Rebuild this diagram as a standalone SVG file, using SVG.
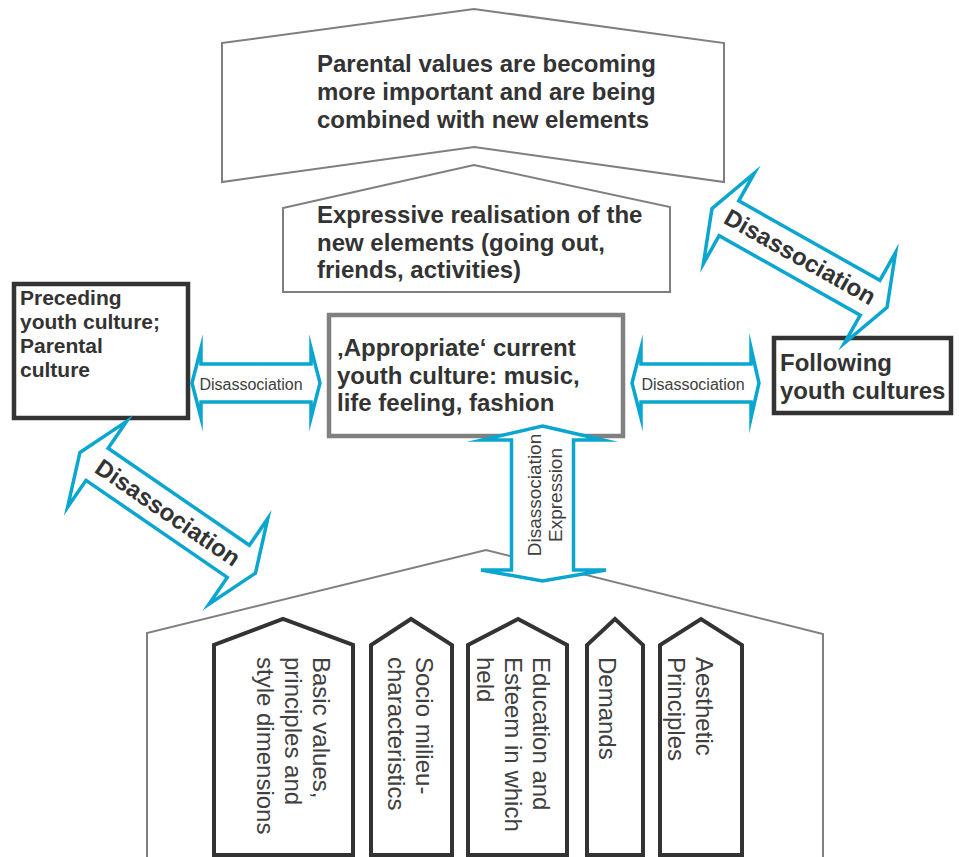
<svg xmlns="http://www.w3.org/2000/svg" width="959" height="857" viewBox="0 0 959 857">
<style>
.chev{fill:#fff;stroke:#7f7f7f;stroke-width:2}
.box{fill:#fff;stroke:#333;stroke-width:4.5}
.boxg{fill:#fff;stroke:#808080;stroke-width:4.5}
.pil{fill:#fff;stroke:#333;stroke-width:4;stroke-linejoin:miter}
.arr{fill:#fff;stroke:#0aa6d0;stroke-width:3.5;stroke-linejoin:miter;stroke-miterlimit:10}
.house{fill:#fff;stroke:#808080;stroke-width:2}
.b{font-family:"Liberation Sans",Arial,sans-serif;font-weight:bold;fill:#333}
.r{font-family:"Liberation Sans",Arial,sans-serif;fill:#404040}
</style>
<rect width="959" height="857" fill="#fff"/>

<g id="house">
<polyline class="house" points="147,858 147,633 486,550 823,634 823,858"/>
</g>

<g id="top-values">
<polygon class="chev" points="222,43 474,9 724,43 724,182 474,147 222,182"/>
<text class="b" font-size="24" x="317" y="72">Parental values are becoming</text>
<text class="b" font-size="24" x="317" y="100">more important and are being</text>
<text class="b" font-size="24" x="317" y="128">combined with new elements</text>
</g>

<g id="expressive">
<polygon class="chev" points="283,208 474,165 670,207 670,292 283,292"/>
<text class="b" font-size="24" x="317" y="223">Expressive realisation of the</text>
<text class="b" font-size="24" x="317" y="251">new elements (going out,</text>
<text class="b" font-size="24" x="317" y="278">friends, activities)</text>
</g>

<g id="preceding">
<rect class="box" x="14" y="284" width="174" height="134"/>
<text class="b" font-size="21" x="20" y="305">Preceding</text>
<text class="b" font-size="21" x="20" y="329">youth culture;</text>
<text class="b" font-size="21" x="20" y="353">Parental</text>
<text class="b" font-size="21" x="20" y="377">culture</text>
</g>

<g id="current">
<rect class="boxg" x="329" y="315" width="294" height="121"/>
<text class="b" font-size="24" x="337" y="356">‚Appropriate‘ current</text>
<text class="b" font-size="24" x="337" y="384">youth culture: music,</text>
<text class="b" font-size="24" x="337" y="411">life feeling, fashion</text>
</g>

<g id="following">
<rect class="box" x="774" y="338" width="177" height="75"/>
<text class="b" font-size="24" x="780" y="371">Following</text>
<text class="b" font-size="24" x="780" y="399">youth cultures</text>
</g>

<g id="pillars">
<g id="pillar-basic">
<polygon class="pil" points="214,855 214,645 283,619 353,645 353,855"/>
<text class="r" font-size="24" transform="translate(313,657) rotate(90)"><tspan x="0" y="0">Basic values,</tspan><tspan x="0" dy="28">principles and</tspan><tspan x="0" dy="28">style dimensions</tspan></text>
</g>
<g id="pillar-socio">
<polygon class="pil" points="371,855 371,645 411,619 452,645 452,855"/>
<text class="r" font-size="24" transform="translate(416,657) rotate(90)"><tspan x="0" y="0">Socio milieu-</tspan><tspan x="0" dy="28">characteristics</tspan></text>
</g>
<g id="pillar-education">
<polygon class="pil" points="468,855 468,645 518,619 567,645 567,855"/>
<text class="r" font-size="24" transform="translate(533,657) rotate(90)"><tspan x="0" y="0">Education and</tspan><tspan x="0" dy="28">Esteem in which</tspan><tspan x="0" dy="28">held</tspan></text>
</g>
<g id="pillar-demands">
<polygon class="pil" points="587,855 587,645 615,619 643,645 643,855"/>
<text class="r" font-size="24" transform="translate(599,657) rotate(90)">Demands</text>
</g>
<g id="pillar-aesthetic">
<polygon class="pil" points="660,855 660,645 701,619 742,645 742,855"/>
<text class="r" font-size="24" transform="translate(696,657) rotate(90)"><tspan x="0" y="0">Aesthetic</tspan><tspan x="0" dy="28">Principles</tspan></text>
</g>
</g>

<g id="connectors">
<g id="arrow-left">
<path class="arr" d="M192,383 L201,348 L201,364 L311,364 L311,348 L320,383 L311,418 L311,402 L201,402 L201,418 Z"/>
<text class="r" font-size="16" x="251" y="390" text-anchor="middle">Disassociation</text>
</g>
<g id="arrow-right">
<path class="arr" d="M632,383 L641,348 L641,364 L751,364 L751,348 L759,383 L751,418 L751,402 L641,402 L641,418 Z"/>
<text class="r" font-size="16" x="693" y="390" text-anchor="middle">Disassociation</text>
</g>
<g id="arrow-down">
<path class="arr" d="M542.5,426 L603,440 L573.5,440 L573.5,570 L606,570 L542.5,581 L481,570 L511.5,570 L511.5,440 L482,440 Z"/>
<text class="r" font-size="19" text-anchor="middle" transform="translate(541,495) rotate(-90)"><tspan x="0" y="0">Disassociation</tspan><tspan x="0" dy="21">Expression</tspan></text>
</g>
<g id="arrow-diag-upper" transform="translate(799.5,258) rotate(29.4)">
<path class="arr" d="M-100.5,0 L-81,-52 L-81,-20 L81,-20 L81,-52 L100.5,0 L81,52 L81,20 L-81,20 L-81,52 Z"/>
<text class="b" font-size="24" x="0" y="7" text-anchor="middle">Disassociation</text>
</g>
<g id="arrow-diag-lower" transform="translate(167.7,512.8) rotate(34.5)">
<path class="arr" d="M-106.5,0 L-85.7,-52 L-85.7,-19.5 L85.7,-19.5 L85.7,-52 L106.5,0 L85.7,52 L85.7,19.5 L-85.7,19.5 L-85.7,52 Z"/>
<text class="b" font-size="24" x="0" y="8" text-anchor="middle">Disassociation</text>
</g>
</g>
</svg>
